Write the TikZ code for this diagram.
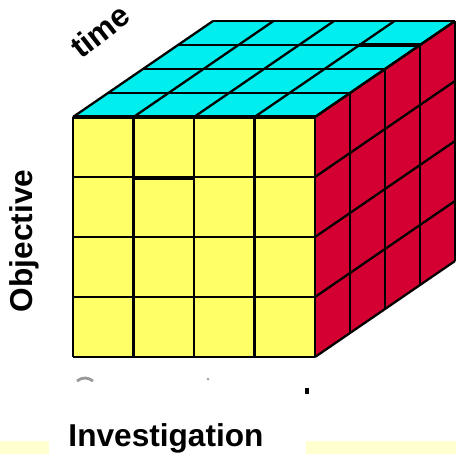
\documentclass[tikz,border=0pt]{standalone}
\usepackage{fontspec}
\setmainfont{Liberation Sans}
\usetikzlibrary{calc}
\definecolor{topC}{RGB}{0,238,238}
\definecolor{frontC}{RGB}{255,255,102}
\definecolor{sideC}{RGB}{212,0,50}
\definecolor{barC}{RGB}{255,255,208}
\tikzset{
  gridline/.style={black, line width=1.3pt, line join=round},
  lbl/.style={font=\fontsize{18}{21}\selectfont\bfseries, inner sep=0pt}
}

\begin{document}
\begin{tikzpicture}[x=0.02cm, y=-0.02cm]
      \useasboundingbox (0,0) rectangle (456,454);

      % Front face corners
      \coordinate (F1) at (73,117);
      \coordinate (F2) at (315,117);
      \coordinate (F3) at (315,357);
      \coordinate (F4) at (73,357);

      % Back corners: shifted by the depth offset
      \coordinate (D) at (140,-96);
      \coordinate (B1) at ($(F1)+(D)$);
      \coordinate (B2) at ($(F2)+(D)$);
      \coordinate (B3) at ($(F3)+(D)$);

      % Faces
      \fill[topC] (F1) -- (F2) -- (B2) -- (B1) -- cycle;
      \fill[sideC] (F2) -- (F3) -- (B3) -- (B2) -- cycle;
      \fill[frontC] (F1) -- (F2) -- (F3) -- (F4) -- cycle;

      % Grid of the top face
      \foreach \k in {0,...,4} {
        \draw[gridline] ($(F1)!\k/4!(B1)$) -- ($(F2)!\k/4!(B2)$);
        \draw[gridline] ($(F1)!\k/4!(F2)$) -- ($(B1)!\k/4!(B2)$);
      }

      % Grid of the right face
      \foreach \k in {0,...,4} {
        \draw[gridline] ($(F2)!\k/4!(B2)$) -- ($(F3)!\k/4!(B3)$);
        \draw[gridline] ($(F2)!\k/4!(F3)$) -- ($(B2)!\k/4!(B3)$);
      }

      % Grid of the front face
      \foreach \k in {0,...,4} {
        \draw[gridline] ($(F1)!\k/4!(F2)$) -- ($(F4)!\k/4!(F3)$);
        \draw[gridline] ($(F1)!\k/4!(F4)$) -- ($(F2)!\k/4!(F3)$);
      }
      \draw[gridline, line width=1.8pt] (F1) -- (F2);

      % Two heavier cell edges
      \draw[line width=2.2pt] ($(F1)!0.25!(F2)+(0,61)$) -- ($(F1)!0.5!(F2)+(0,61)$);
      \draw[line width=2.2pt] ($(F1)!0.75!(B1)+(181,0)$) -- ($(F2)!0.75!(B2)$);

      % Clipped remains of a lower caption
      \draw[gray!80, line width=1.6pt] (77,381) .. controls (82,377) and (88,377) .. (93,381);
      \fill[gray!70] (208,379) circle (1.5);
      \fill (305,388) rectangle (309,394);

      % Pale bars along the bottom edge
      \fill[barC] (0,441) rectangle (49,454);
      \fill[barC] (306,441) rectangle (456,454);

      % Axis labels
      \node[lbl, rotate=38] (time) at (100,31) {time};
      \node[lbl, rotate=90] (obj) at (24,241) {Objective};
      \node[lbl, anchor=base] (inv) at (166,446) {Investigation};
\end{tikzpicture}
\end{document}
